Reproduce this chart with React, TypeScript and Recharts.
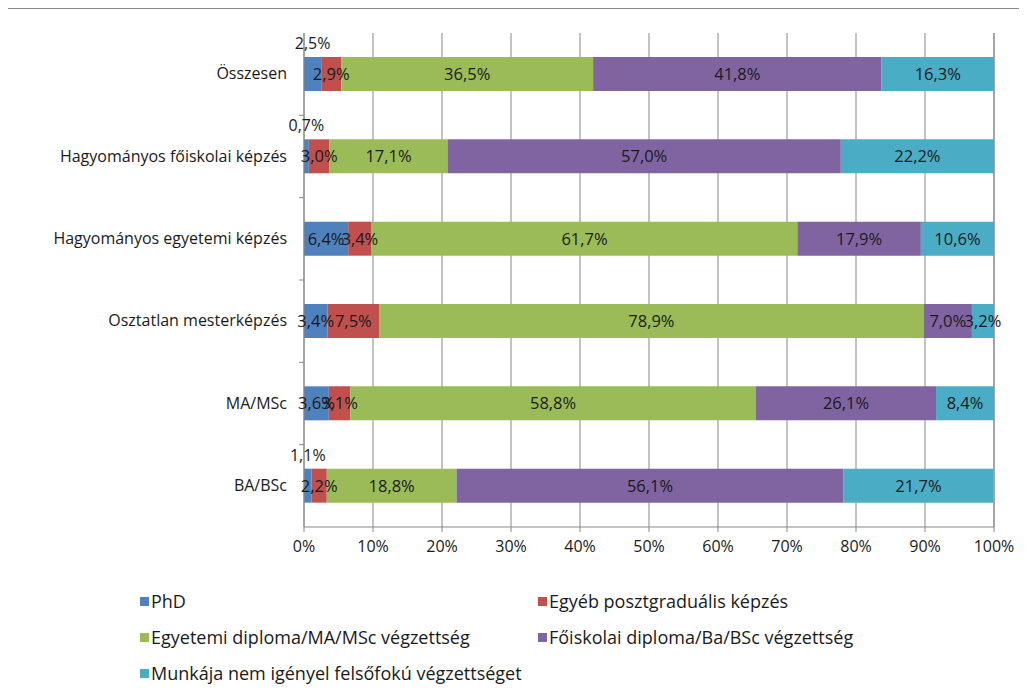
import React from 'react';
import { BarChart, Bar, XAxis, YAxis, CartesianGrid, LabelList } from 'recharts';

const categories = [
  'Összesen',
  'Hagyományos főiskolai képzés',
  'Hagyományos egyetemi képzés',
  'Osztatlan mesterképzés',
  'MA/MSc',
  'BA/BSc',
];

const phd = [2.5, 0.7, 6.4, 3.4, 3.6, 1.1];
const egyebPoszt = [2.9, 3.0, 3.4, 7.5, 3.1, 2.2];
const egyetemi = [36.5, 17.1, 61.7, 78.9, 58.8, 18.8];
const foiskolai = [41.8, 57.0, 17.9, 7.0, 26.1, 56.1];
const nemIgenyel = [16.3, 22.2, 10.6, 3.2, 8.4, 21.7];

const xTicks = [0, 10, 20, 30, 40, 50, 60, 70, 80, 90, 100];

const series = [
  { key: 'phd', name: 'PhD', values: phd, color: '#4F81BD', above: true },
  { key: 'egyeb', name: 'Egyéb posztgraduális képzés', values: egyebPoszt, color: '#C0504D', above: false },
  { key: 'egyetemi', name: 'Egyetemi diploma/MA/MSc végzettség', values: egyetemi, color: '#9BBB59', above: false },
  { key: 'foiskolai', name: 'Főiskolai diploma/Ba/BSc végzettség', values: foiskolai, color: '#8064A2', above: false },
  { key: 'munka', name: 'Munkája nem igényel felsőfokú végzettséget', values: nemIgenyel, color: '#4BACC6', above: false },
];

const data = categories.map((name, i) => {
  const row: Record<string, string | number> = { name };
  series.forEach((s) => {
    row[s.key] = s.values[i];
  });
  return row;
});

const FONT = '"Open Sans", "Noto Sans", sans-serif';
const TEXT = '#1a1a1a';
const AXIS = '#878787';

const fmt = (v: number) => v.toFixed(1).replace('.', ',') + '%';

const PLOT_H = 494;
const BAND = PLOT_H / categories.length;

const makeLabel = (above: boolean) => (props: any) => {
  const { x, y, width, height, value } = props;
  const v = Number(value);
  const cx = x + width / 2;
  if (above && v < 3) {
    return (
      <text x={cx} y={y - 8} textAnchor="middle" fontSize={16} fill={TEXT} fontFamily={FONT}>
        {fmt(v)}
      </text>
    );
  }
  return (
    <text x={cx} y={y + height / 2 + 6} textAnchor="middle" fontSize={16.5} fill={TEXT} fontFamily={FONT}>
      {fmt(v)}
    </text>
  );
};

const CategoryTick = (props: any) => {
  const { x, y, payload, index } = props;
  const axisX = x + 17;
  return (
    <g>
      <text x={x} y={y + 5} textAnchor="end" fontSize={16} fill={TEXT} fontFamily={FONT}>
        {payload.value}
      </text>
      {index > 0 && (
        <line x1={axisX - 5} x2={axisX} y1={y - BAND / 2} y2={y - BAND / 2} stroke={AXIS} />
      )}
    </g>
  );
};

export default function App() {
  return (
    <div
      style={{
        position: 'relative',
        marginLeft: -3,
        width: 1014,
        height: 680,
        borderTop: '1px solid #8a8a8a',
        borderLeft: '1px solid #8a8a8a',
        fontFamily: FONT,
        background: '#fff',
      }}
    >
      <BarChart
        width={1010}
        height={560}
        data={data}
        layout="vertical"
        margin={{ top: 24, right: 22, left: 0, bottom: 12 }}
        barSize={34}
      >
        <CartesianGrid horizontal={false} stroke={AXIS} />
        <XAxis
          type="number"
          domain={[0, 100]}
          ticks={xTicks}
          tickFormatter={(v: number) => v + '%'}
          height={30}
          tickSize={5}
          tickMargin={9}
          stroke={AXIS}
          tick={{ fontSize: 16, fill: TEXT, fontFamily: FONT }}
          interval={0}
        />
        <YAxis
          type="category"
          dataKey="name"
          width={298}
          tickSize={5}
          tickMargin={12}
          tickLine={false}
          stroke={AXIS}
          tick={<CategoryTick />}
          interval={0}
        />
        {series.map((s) => (
          <Bar key={s.key} dataKey={s.key} name={s.name} stackId="a" fill={s.color} isAnimationActive={false}>
            <LabelList dataKey={s.key} content={makeLabel(s.above)} />
          </Bar>
        ))}
      </BarChart>
      <div
        style={{
          position: 'absolute',
          left: 134,
          top: 580,
          display: 'grid',
          gridTemplateColumns: '398px 440px',
          rowGap: 12,
          fontSize: 18,
          color: TEXT,
        }}
      >
        {series.map((s) => (
          <div key={s.key} style={{ display: 'flex', alignItems: 'center', height: 24 }}>
            <span style={{ width: 9, height: 9, background: s.color, marginRight: 2, display: 'inline-block' }} />
            <span>{s.name}</span>
          </div>
        ))}
      </div>
    </div>
  );
}
